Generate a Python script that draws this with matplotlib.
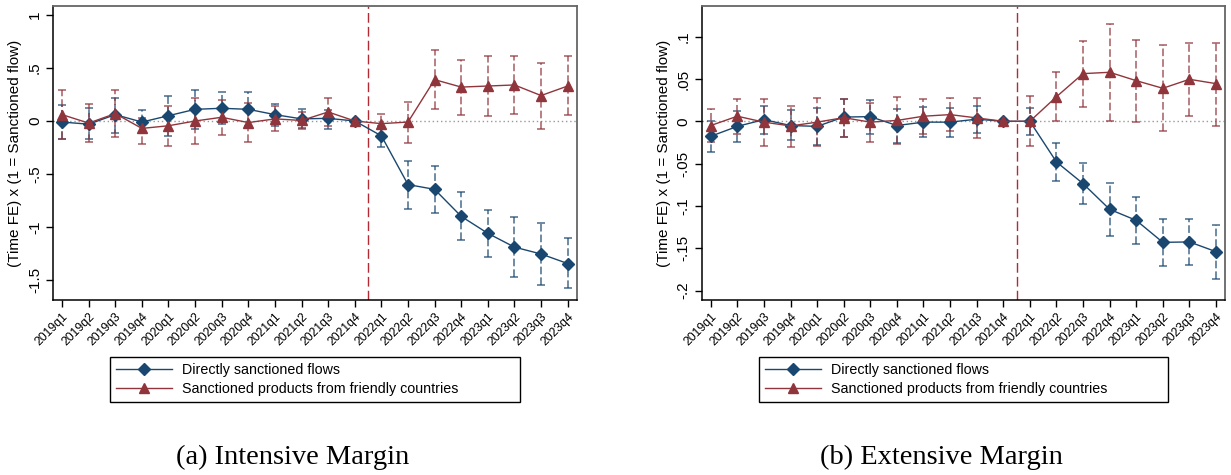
import matplotlib
matplotlib.use("Agg")
import matplotlib.pyplot as plt
from matplotlib.lines import Line2D
import numpy as np

plt.rcParams['font.family'] = ['Liberation Sans', 'DejaVu Sans']

quarters = ['2019q1', '2019q2', '2019q3', '2019q4',
            '2020q1', '2020q2', '2020q3', '2020q4',
            '2021q1', '2021q2', '2021q3', '2021q4',
            '2022q1', '2022q2', '2022q3', '2022q4',
            '2023q1', '2023q2', '2023q3', '2023q4']

# (a) intensive margin: point estimates and 95% CI bounds
int_direct = [-0.01, -0.03, 0.06, -0.01, 0.05, 0.11, 0.12, 0.11, 0.06, 0.02,
              0.025, 0.0, -0.14, -0.60, -0.645, -0.90, -1.06, -1.19, -1.255, -1.345]
int_direct_hi = [0.15, 0.12, 0.22, 0.10, 0.24, 0.29, 0.27, 0.27, 0.16, 0.11,
                 0.10, 0.0, -0.05, -0.38, -0.42, -0.67, -0.84, -0.91, -0.96, -1.10]
int_direct_lo = [-0.17, -0.17, -0.11, -0.11, -0.14, -0.08, -0.03, -0.05, -0.05, -0.07,
                 -0.08, 0.0, -0.25, -0.83, -0.87, -1.12, -1.28, -1.47, -1.55, -1.58]

int_friendly = [0.06, -0.02, 0.07, -0.07, -0.045, 0.0, 0.035, -0.015, 0.02, 0.005,
                0.085, 0.0, -0.025, -0.01, 0.39, 0.32, 0.33, 0.34, 0.24, 0.33]
int_friendly_hi = [0.29, 0.16, 0.29, 0.03, 0.145, 0.22, 0.20, 0.17, 0.14, 0.085,
                   0.22, 0.0, 0.07, 0.18, 0.67, 0.58, 0.615, 0.615, 0.55, 0.61]
int_friendly_lo = [-0.17, -0.20, -0.15, -0.22, -0.24, -0.22, -0.13, -0.20, -0.09, -0.08,
                   -0.05, 0.0, -0.12, -0.21, 0.11, 0.06, 0.05, 0.07, -0.08, 0.055]

# (b) extensive margin
ext_direct = [-0.0177, -0.006, 0.002, -0.005, -0.006, 0.005, 0.0055, -0.005, -0.001, -0.001,
              0.0025, 0.0, 0.0, -0.048, -0.0736, -0.104, -0.117, -0.143, -0.1425, -0.154]
ext_direct_hi = [0.0, 0.012, 0.0185, 0.013, 0.016, 0.026, 0.025, 0.015, 0.017, 0.016,
                 0.018, 0.0, 0.0155, -0.026, -0.049, -0.073, -0.089, -0.116, -0.116, -0.122]
ext_direct_lo = [-0.036, -0.024, -0.015, -0.022, -0.0275, -0.018, -0.0145, -0.026, -0.0185, -0.0185,
                 -0.014, 0.0, -0.016, -0.070, -0.098, -0.135, -0.145, -0.171, -0.170, -0.186]

ext_friendly = [-0.005, 0.006, -0.001, -0.0055, -0.001, 0.0043, -0.001, 0.001, 0.006, 0.0079,
                0.004, 0.0, 0.0, 0.029, 0.0563, 0.0579, 0.048, 0.039, 0.0496, 0.0445]
ext_friendly_hi = [0.0146, 0.026, 0.026, 0.0177, 0.0275, 0.026, 0.0217, 0.029, 0.026, 0.027,
                   0.027, 0.0, 0.03, 0.058, 0.0945, 0.1146, 0.0957, 0.090, 0.0925, 0.0925]
ext_friendly_lo = [-0.024, -0.0145, -0.029, -0.030, -0.0295, -0.0185, -0.024, -0.027, -0.015, -0.0114,
                   -0.020, 0.0, -0.0295, 0.0, 0.017, 0.0, -0.001, -0.011, 0.0063, -0.005]

blue = '#1a476f'
red = '#90353b'
vline_red = '#b22a34'
labels = ['Directly sanctioned flows', 'Sanctioned products from friendly countries']

fig = plt.figure(figsize=(12.31, 4.75), dpi=100)
W, H = 1231.0, 475.0


def draw_series(ax, x, est, hi, lo, color, marker, ms):
    est = np.array(est)
    hi = np.array(hi)
    lo = np.array(lo)
    ci = ~((hi == 0) & (lo == 0))
    yerr = np.vstack([est - lo, hi - est])[:, ci]
    _, caps, bars = ax.errorbar(x[ci], est[ci], yerr=yerr, fmt='none', ecolor=color,
                                elinewidth=1.1, capsize=3, capthick=1.1, alpha=0.8, zorder=2)
    for b in bars:
        b.set_linestyle((0, (5, 2)))
    ax.plot(x, est, color=color, lw=1.0, marker=marker, ms=ms, zorder=3)


def panel(rect, direct, d_hi, d_lo, friendly, f_hi, f_lo, ylim, yticks, yticklabels):
    ax = fig.add_axes(rect)
    x = np.arange(1, len(quarters) + 1)
    ax.axhline(0, color='#999999', lw=1.0, ls=(0, (1, 2)), zorder=1)
    ax.axvline(12.5, color=vline_red, lw=1.0, ls=(0, (7, 3)), zorder=1)
    draw_series(ax, x, direct, d_hi, d_lo, blue, 'D', 6.5)
    draw_series(ax, x, friendly, f_hi, f_lo, red, '^', 7.5)
    ax.set_xlim(0.66, 20.35)
    ax.set_ylim(*ylim)
    ax.set_xticks(x)
    ax.set_xticklabels(quarters, rotation=45, ha='right', rotation_mode='anchor', fontsize=8.8)
    ax.set_yticks(yticks)
    ax.set_yticklabels(yticklabels, rotation=90, va='center', fontsize=11)
    ax.set_ylabel('(Time FE) x (1 = Sanctioned flow)', fontsize=11, labelpad=4)
    ax.tick_params(direction='out', length=5, width=1, color='black', pad=3)
    for s in ('left', 'bottom'):
        ax.spines[s].set_color('black')
        ax.spines[s].set_linewidth(1.1)
    for s in ('top', 'right'):
        ax.spines[s].set_color('#666666')
        ax.spines[s].set_linewidth(1.3)
    return ax


ax1 = panel([53 / W, 1 - 300 / H, 524 / W, 294 / H],
            int_direct, int_direct_hi, int_direct_lo,
            int_friendly, int_friendly_hi, int_friendly_lo,
            (-1.689, 1.085), [1, 0.5, 0, -0.5, -1, -1.5], ['1', '.5', '0', '-.5', '-1', '-1.5'])
ax2 = panel([701.7 / W, 1 - 300 / H, 523.6 / W, 294 / H],
            ext_direct, ext_direct_hi, ext_direct_lo,
            ext_friendly, ext_friendly_hi, ext_friendly_lo,
            (-0.2111, 0.1362), [0.1, 0.05, 0, -0.05, -0.1, -0.15, -0.2],
            ['.1', '.05', '0', '-.05', '-.1', '-.15', '-.2'])

handles = [Line2D([], [], color=blue, lw=1.0, marker='D', ms=6.5),
           Line2D([], [], color=red, lw=1.0, marker='^', ms=7.5)]

for x0, x1 in [(110, 520), (759, 1168)]:
    leg = fig.legend(handles, labels, loc='upper left', mode='expand',
                     bbox_to_anchor=(x0 / W, 1 - 405 / H, (x1 - x0) / W, 48 / H),
                     borderaxespad=0, fontsize=10.3, handlelength=3.9, handletextpad=0.7,
                     labelspacing=0.4, borderpad=0.4, fancybox=False, framealpha=1)
    leg.get_frame().set_edgecolor('black')
    leg.get_frame().set_linewidth(1.0)

fig.text(293 / W, 1 - 457 / H, '(a) Intensive Margin', ha='center', va='center',
         family='Liberation Serif', fontsize=20.5)
fig.text(941 / W, 1 - 457 / H, '(b) Extensive Margin', ha='center', va='center',
         family='Liberation Serif', fontsize=20.5)

fig.savefig('out.png', dpi=100)
